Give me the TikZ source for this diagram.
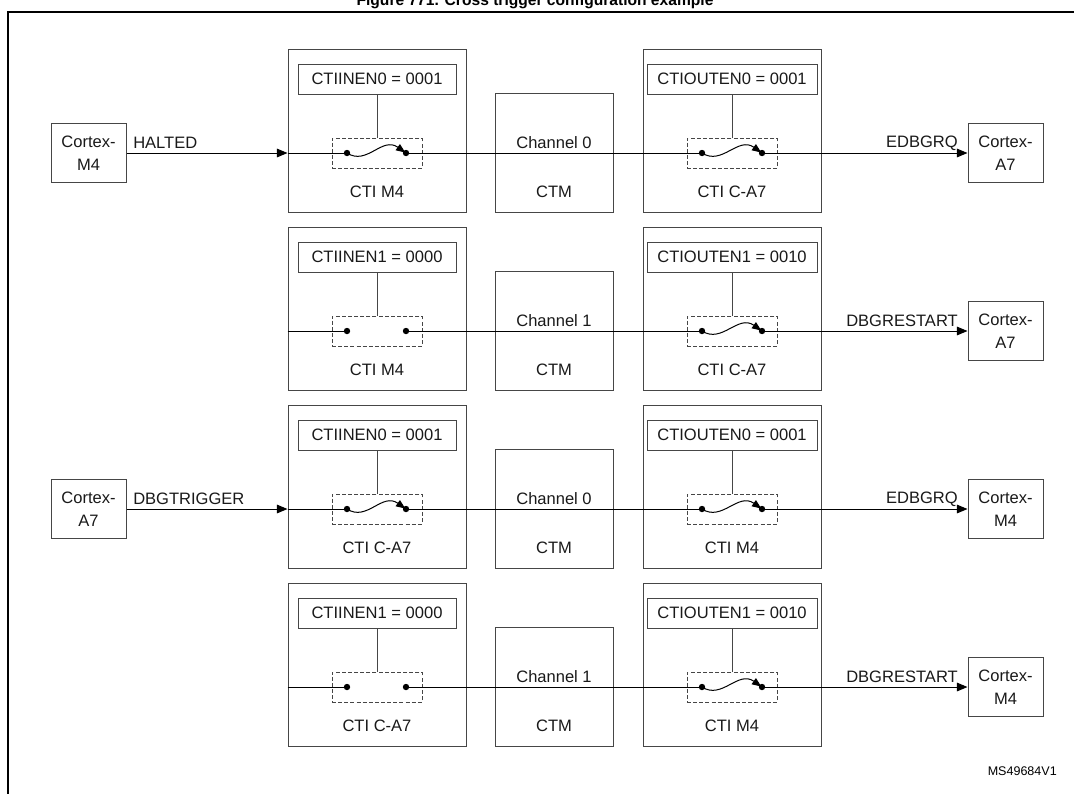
\documentclass[tikz,border=0pt]{standalone}
\usepackage{fontspec}
\setmainfont{Liberation Sans}
\usetikzlibrary{arrows.meta,fit}
\definecolor{boxc}{RGB}{70,70,70}
\newcommand\fsz{\fontsize{12.4pt}{17pt}\selectfont}
\tikzset{
  box/.style={draw=boxc, line width=0.75pt, inner sep=0pt},
  dbox/.style={draw=boxc, line width=0.75pt, inner sep=0pt, dash pattern=on 3pt off 1.6pt},
  lbl/.style={font=\fsz, inner sep=0pt, text=black!90},
  sig/.style={draw=black, line width=0.75pt},
  arr/.style={sig, -{Triangle[length=8pt,width=6.5pt]}},
  swarr/.style={sig, -{Triangle[length=7pt,width=5.5pt]}, shorten >=0.6pt},
  dotn/.style={circle, fill=black, inner sep=0pt, minimum size=4.8pt},
}
% #1 id, #2 line y, #3 left CTI, #4 in reg, #5 channel, #6 out reg, #7 right CTI, #8 right signal, #9 right cortex
\newcommand\ctirow[9]{%
  % left CTI
  \node[box, fit={(288,#2-104) (466,#2+59)}] (#1lc) {};
  \node[box, fit={(298,#2-89) (456,#2-59)}] (#1lr) {};
  \node[lbl] at (#1lr.center) {#4};
  \node[dbox, fit={(332,#2-15) (422,#2+15)}] (#1ld) {};
  \draw[sig, draw=boxc] (#1lr.south) -- (#1ld.north);
  \node[lbl] at (377,#2+39) {#3};
  \node[dotn] (#1la) at (347,#2) {};
  \node[dotn] (#1lb) at (406,#2) {};
  \coordinate (#1in) at (#1lc.west |- #1la);
  % CTM
  \node[box, fit={(495,#2-60) (613,#2+59)}] (#1ctm) {};
  \node[lbl] at (554,#2-10) {#5};
  \node[lbl] at (554,#2+39) {CTM};
  % right CTI
  \node[box, fit={(643,#2-104) (821,#2+59)}] (#1rc) {};
  \node[box, fit={(647,#2-89) (817,#2-59)}] (#1rr) {};
  \node[lbl] at (#1rr.center) {#6};
  \node[dbox, fit={(687,#2-15) (777,#2+15)}] (#1rd) {};
  \draw[sig, draw=boxc] (#1rr.south) -- (#1rd.north);
  \node[lbl] at (732,#2+39) {#7};
  \node[dotn] (#1ra) at (702,#2) {};
  \node[dotn] (#1rb) at (762,#2) {};
  % right cortex
  \node[box, fit={(968,#2-29.5) (1043,#2+29.5)}] (#1rx) {};
  \node[lbl, align=center] at (#1rx.center) {Cortex-\\#9};
  % connections
  \draw[sig] (#1in) -- (#1la.center);
  \draw[sig] (#1lb.center) -- (#1ra.center);
  \draw[swarr] (#1ra.center) .. controls +(20,13) and +(-24,-17) .. (#1rb.center);
  \draw[arr] (#1rb.center) -- (#1rx.west);
  \node[lbl, anchor=east] at (958,#2-10) {#8};
}
\newcommand\leftsrc[4]{% #1 id, #2 line y, #3 cortex suffix, #4 signal
  \node[box, fit={(51,#2-29.5) (126,#2+29.5)}] (#1lx) {};
  \node[lbl, align=center] at (#1lx.center) {Cortex-\\#3};
  \draw[arr] (#1lx.east) -- (#1in);
  \node[lbl, anchor=west] at (133,#2-10) {#4};
  \draw[swarr] (#1la.center) .. controls +(20,13) and +(-24,-17) .. (#1lb.center);
}
\begin{document}
\begin{tikzpicture}[x=0.75pt,y=-0.75pt]
\useasboundingbox (0,0) rectangle (1074,794);
\node[anchor=base, font=\fontsize{11.7pt}{14pt}\selectfont\bfseries, inner sep=0pt] (title) at (535,5) {Figure 771. Cross trigger configuration example};
\draw[line width=1.5pt] (1074,12) -- (8,12) -- (8,794);
\ctirow{a}{153}{CTI M4}{CTIINEN0 = 0001}{Channel 0}{CTIOUTEN0 = 0001}{CTI C-A7}{EDBGRQ}{A7}
\leftsrc{a}{153}{M4}{HALTED}
\ctirow{b}{331}{CTI M4}{CTIINEN1 = 0000}{Channel 1}{CTIOUTEN1 = 0010}{CTI C-A7}{DBGRESTART}{A7}
\ctirow{c}{509}{CTI C-A7}{CTIINEN0 = 0001}{Channel 0}{CTIOUTEN0 = 0001}{CTI M4}{EDBGRQ}{M4}
\leftsrc{c}{509}{A7}{DBGTRIGGER}
\ctirow{d}{687}{CTI C-A7}{CTIINEN1 = 0000}{Channel 1}{CTIOUTEN1 = 0010}{CTI M4}{DBGRESTART}{M4}
\node[anchor=east, inner sep=0pt, font=\fontsize{9.4pt}{11pt}\selectfont] (ms) at (1057,771) {MS49684V1};
\end{tikzpicture}
\end{document}
